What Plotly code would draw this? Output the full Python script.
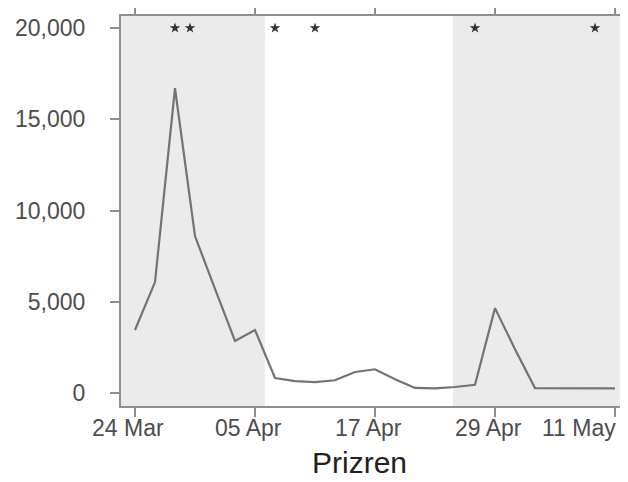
import plotly.graph_objects as go

# Data
dates = ["1999-03-24", "1999-03-26", "1999-03-28", "1999-03-30", "1999-04-01",
         "1999-04-03", "1999-04-05", "1999-04-07", "1999-04-09", "1999-04-11",
         "1999-04-13", "1999-04-15", "1999-04-17", "1999-04-19", "1999-04-21",
         "1999-04-23", "1999-04-25", "1999-04-27", "1999-04-29", "1999-05-01",
         "1999-05-03", "1999-05-05", "1999-05-07", "1999-05-09", "1999-05-11"]
values = [3450, 6080, 16700, 8600, 5700,
          2850, 3450, 820, 650, 600,
          700, 1150, 1300, 750, 280,
          250, 330, 450, 4650, 2400,
          270, 270, 270, 270, 250]

star_dates = ["1999-03-28 00:00", "1999-03-29 12:00", "1999-04-07 00:00",
              "1999-04-11 00:00", "1999-04-27 00:00", "1999-05-09 00:00"]
star_level = [20000] * len(star_dates)

shade_periods = [("1999-03-15", "1999-04-06"), ("1999-04-24 19:00", "1999-05-20")]

x_tickvals = ["1999-03-24", "1999-04-05", "1999-04-17", "1999-04-29", "1999-05-11"]
x_ticktext = ["24 Mar", "05 Apr", "17 Apr", "29 Apr", "11 May"]
y_tickvals = [0, 5000, 10000, 15000, 20000]
x_title = "Prizren"

axis_col = "#8f8f8f"
font_fam = "Liberation Sans, Arial, sans-serif"

fig = go.Figure()
fig.add_trace(go.Scatter(x=dates, y=values, mode="lines",
                         line=dict(color="#737373", width=2.2), hoverinfo="skip"))
fig.add_trace(go.Scatter(x=star_dates, y=star_level, mode="markers",
                         marker=dict(symbol="star", size=8, color="#333333"),
                         hoverinfo="skip"))

for x0, x1 in shade_periods:
    fig.add_shape(type="rect", xref="x", yref="paper", x0=x0, x1=x1, y0=0, y1=1,
                  fillcolor="#ebebeb", line=dict(width=0), layer="below")

# x tick labels as annotations (slightly left of ticks; last one right-aligned)
for i, (tv, tt) in enumerate(zip(x_tickvals, x_ticktext)):
    last = i == len(x_tickvals) - 1
    fig.add_annotation(text=tt, xref="x", yref="paper", x=tv, y=0,
                       xanchor="right" if last else "center",
                       xshift=3 if last else -7, yshift=-22, yanchor="middle",
                       showarrow=False,
                       font=dict(size=23, color="#4d4d4d", family=font_fam))

fig.add_annotation(text=x_title, xref="paper", yref="paper", x=0.473, y=0,
                   yshift=-56, xanchor="center", yanchor="middle", showarrow=False,
                   font=dict(size=30, color="#222222", family=font_fam))

# the page body adds an 8px offset, so the figure is sized to fit inside it
fig.update_layout(
    width=620, height=474,
    margin=dict(l=113, r=2, t=8, b=76),
    paper_bgcolor="white", plot_bgcolor="white",
    showlegend=False,
    font=dict(family=font_fam, size=23, color="#4d4d4d"),
)
fig.update_xaxes(
    type="date", range=["1999-03-22 14:24", "1999-05-12 02:24"],
    tickvals=x_tickvals, showticklabels=False, automargin=False,
    ticks="outside", ticklen=9, tickwidth=2, tickcolor=axis_col,
    showline=True, linecolor=axis_col, linewidth=2, mirror="ticks",
    showgrid=False, zeroline=False,
)
fig.update_yaxes(
    range=[-712, 20658], tickvals=y_tickvals, tickformat=",d", automargin=False,
    ticks="outside", ticklen=9, tickwidth=2, tickcolor=axis_col,
    showline=True, linecolor=axis_col, linewidth=2, mirror=True,
    showgrid=False, zeroline=False, ticklabelstandoff=20,
    tickfont=dict(size=23, color="#4d4d4d"),
)

fig.write_html("out.html")
